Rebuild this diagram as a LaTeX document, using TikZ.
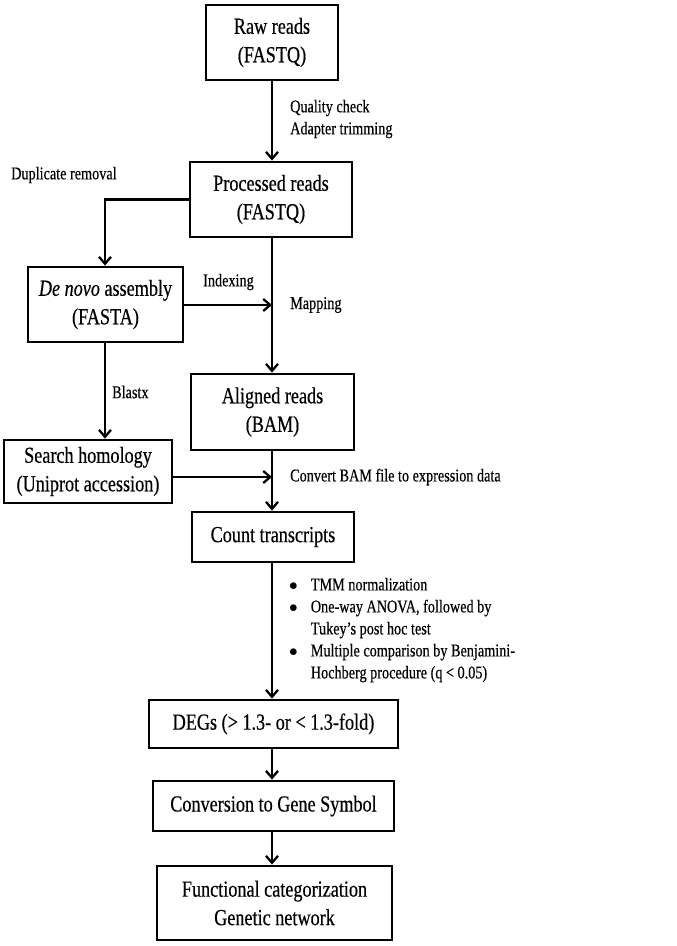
\documentclass[tikz,border=0pt]{standalone}
\usepackage{fontspec}
\setmainfont[FakeStretch=0.79,FakeBold=0.4]{Liberation Serif}
\usepackage{tikz}
\usetikzlibrary{arrows.meta}

\begin{document}
\begin{tikzpicture}[x=1pt,y=-1pt,
  box/.style={draw,line width=2.8pt,align=center,inner sep=0pt,font=\fontsize{23}{28.5}\selectfont},
  lbl/.style={anchor=west,align=left,inner sep=0pt,font=\fontsize{18}{22}\selectfont},
  arr/.style={line width=2.3pt,-{Straight Barb[length=7pt,width=12pt,line width=2.3pt]}}]
\useasboundingbox (0,0) rectangle (677,946);
% boxes
\node[box,minimum width=132pt,minimum height=75pt] (raw) at (272,42.5) {Raw reads\\(FASTQ)};
\node[box,minimum width=162pt,minimum height=75pt] (proc) at (271,199.5) {Processed reads\\(FASTQ)};
\node[box,minimum width=155pt,minimum height=75pt] (denovo) at (105.5,304.5) {\textit{De novo} assembly\\(FASTA)};
\node[box,minimum width=163pt,minimum height=76pt] (aligned) at (272.5,412) {Aligned reads\\(BAM)};
\node[box,minimum width=168pt,minimum height=63pt] (search) at (88,471.5) {Search homology\\(Uniprot accession)};
\node[box,minimum width=162pt,minimum height=50pt] (count) at (273,537) {Count transcripts};
\node[box,minimum width=249pt,minimum height=48pt] (degs) at (273.5,724) {DEGs (\textgreater{} 1.3- or \textless{} 1.3-fold)};
\node[box,minimum width=241pt,minimum height=50pt] (conv) at (273.5,806) {Conversion to Gene Symbol};
\node[box,minimum width=235pt,minimum height=74pt] (func) at (274.5,903) {Functional categorization\\Genetic network};
\coordinate (main) at (272,0);
\coordinate (side) at (105,0);
\coordinate (jA) at (272,305);
\coordinate (jB) at (272,477);
% labels
\node[lbl] (qc) at (290,119) {Quality check\\Adapter trimming};
\node[lbl] (dup) at (11,175) {Duplicate removal};
\node[lbl] (idx) at (203,282) {Indexing};
\node[lbl] (map) at (290,305) {Mapping};
\node[lbl] (blx) at (112,392) {Blastx};
\node[lbl] (cnv) at (290,477) {Convert BAM file to expression data};
\node[lbl] (stat) at (289,630) {\begin{tabular}{@{}l@{\hspace{13pt}}l@{}}
$\bullet$ & TMM normalization\\
$\bullet$ & One-way ANOVA, followed by\\
 & Tukey's post hoc test\\
$\bullet$ & Multiple comparison by Benjamini-\\
 & Hochberg procedure (q \textless{} 0.05)
\end{tabular}};
% arrows
\draw[arr] (main |- raw.south) -- (main |- proc.north);
\draw[arr] (proc.west) -| (side |- denovo.north);
\draw[arr] (denovo.east |- jA) -- (jA);
\draw[arr] (main |- proc.south) -- (main |- aligned.north);
\draw[arr] (side |- denovo.south) -- (side |- search.north);
\draw[arr] (search.east |- jB) -- (jB);
\draw[arr] (main |- aligned.south) -- (main |- count.north);
\draw[arr] (main |- count.south) -- (main |- degs.north);
\draw[arr] (main |- degs.south) -- (main |- conv.north);
\draw[arr] (main |- conv.south) -- (main |- func.north);
\end{tikzpicture}
\end{document}
